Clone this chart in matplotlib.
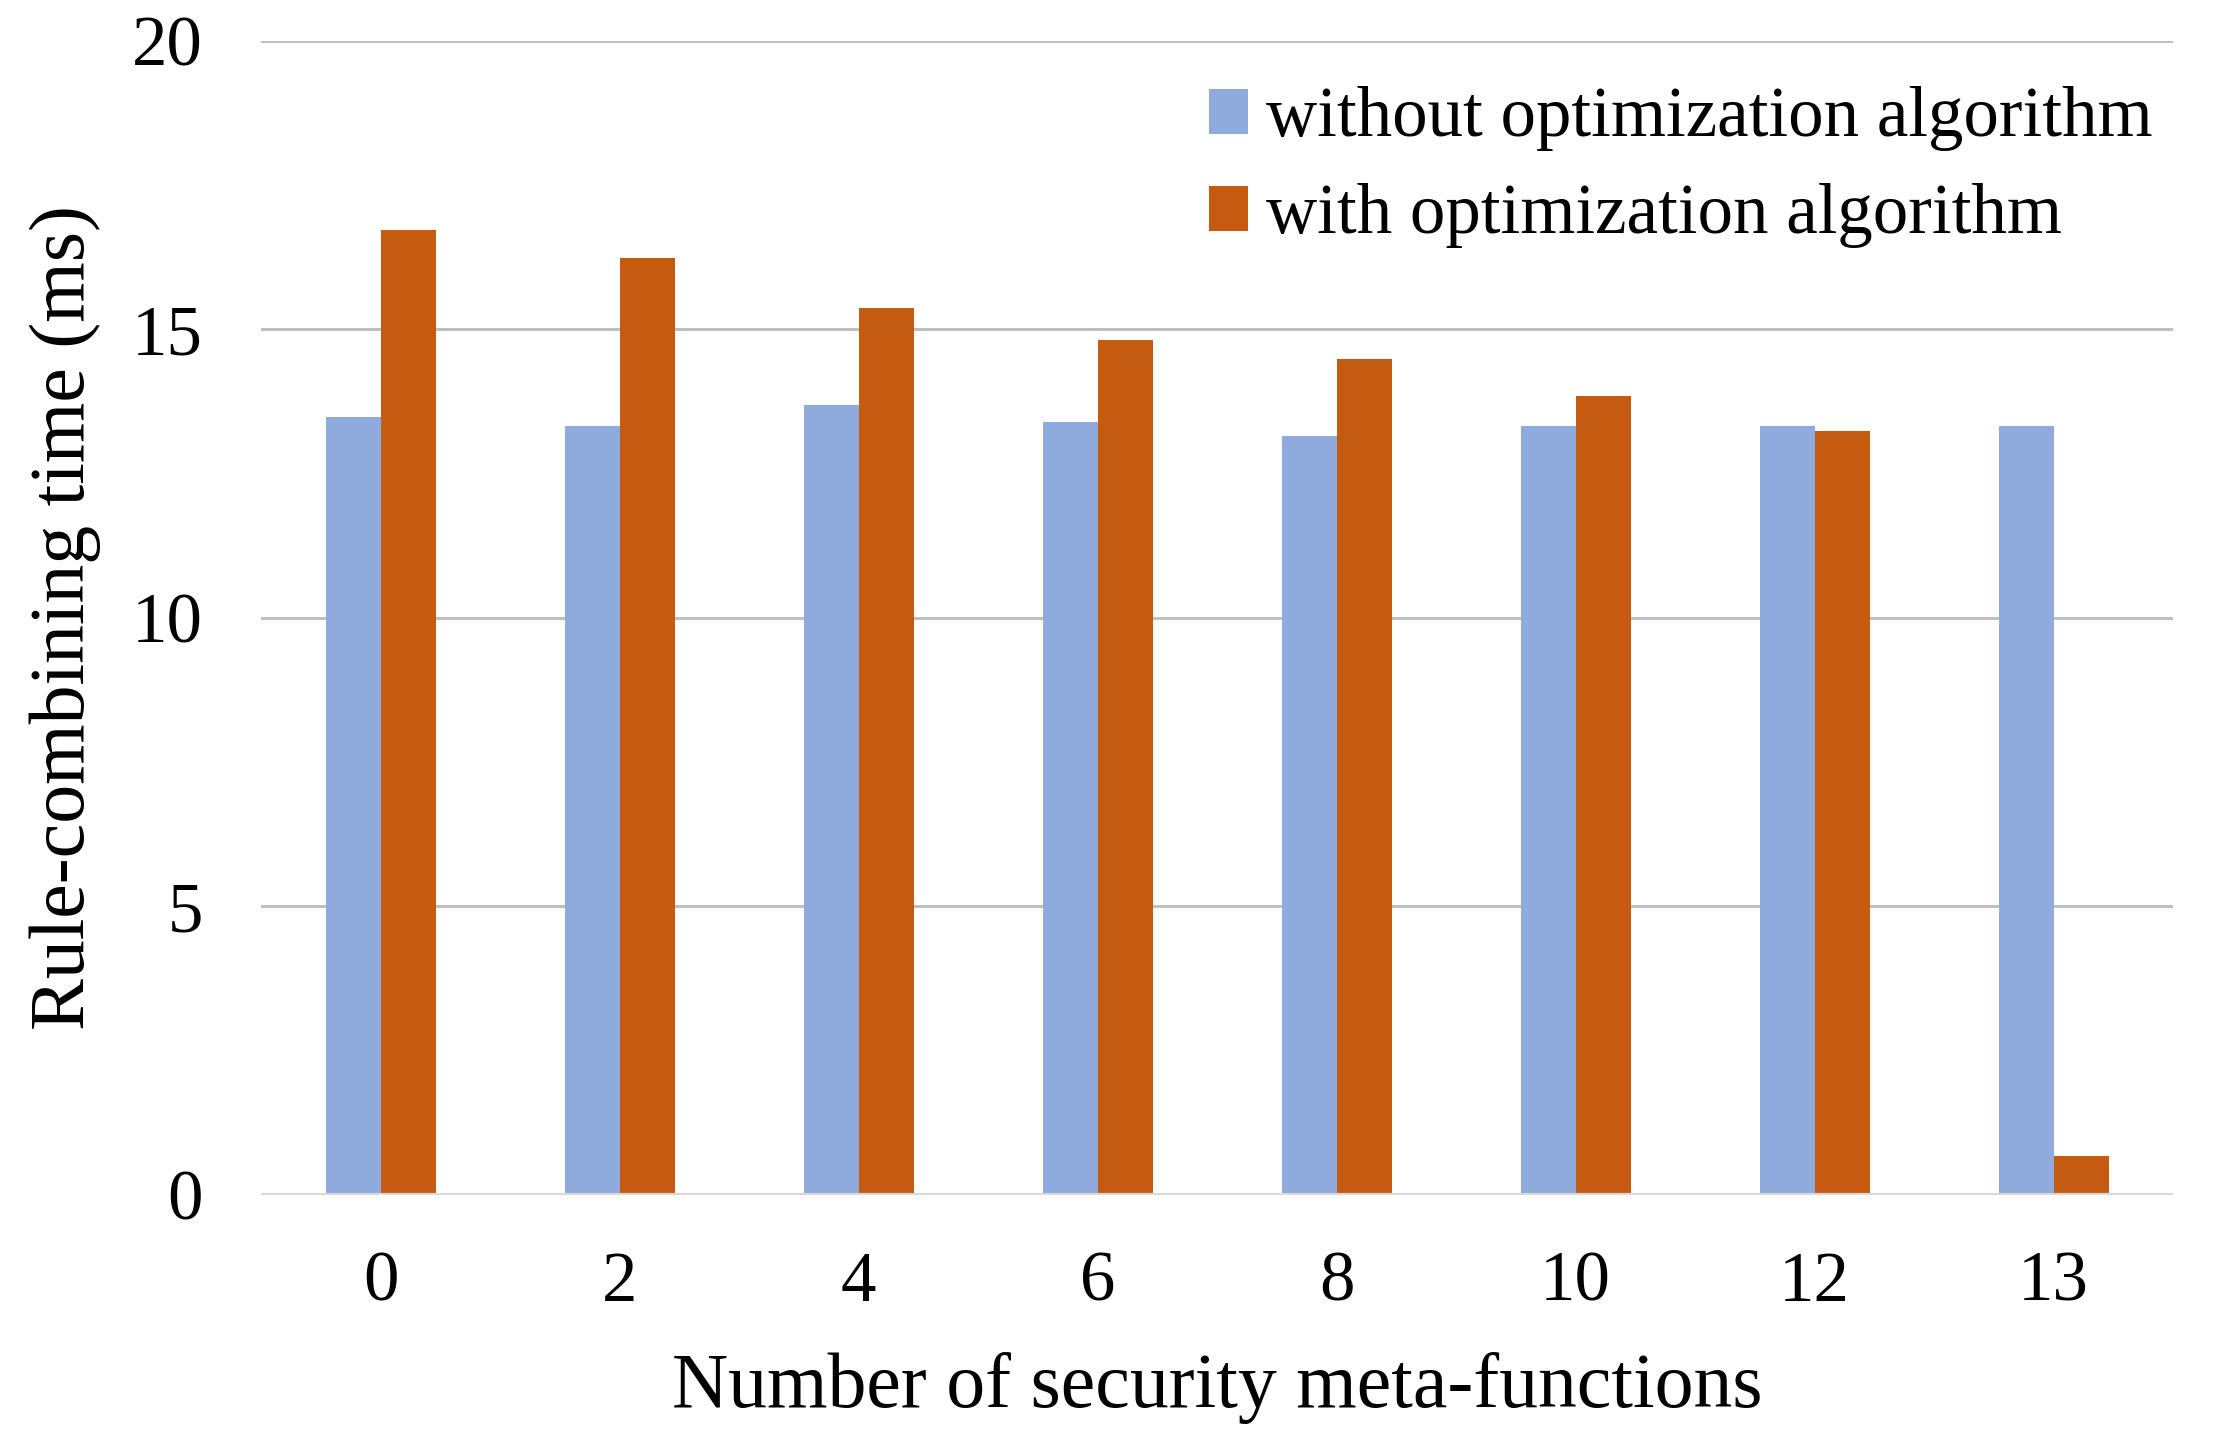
import matplotlib
matplotlib.use("Agg")
import matplotlib.pyplot as plt
import numpy as np

categories = ['0', '2', '4', '6', '8', '10', '12', '13']
without_opt = [13.48, 13.33, 13.68, 13.40, 13.15, 13.33, 13.33, 13.33]
with_opt = [16.72, 16.23, 15.36, 14.82, 14.48, 13.85, 13.24, 0.68]
series_names = ['without optimization algorithm', 'with optimization algorithm']

plt.rcParams['font.family'] = ['Liberation Serif', 'DejaVu Serif']

fig = plt.figure(figsize=(22.13, 14.52), dpi=100)
ax = fig.add_axes([0.118, 0.177, 0.864, 0.795])

x = np.arange(len(categories))
w = 0.23
ax.bar(x - w / 2, without_opt, w, color='#8FAADC', label=series_names[0], zorder=3)
ax.bar(x + w / 2, with_opt, w, color='#C55A11', label=series_names[1], zorder=3)

ax.set_xlim(-0.5, len(categories) - 0.5)
ax.set_ylim(0, 20)
ax.set_yticks([0, 5, 10, 15, 20])
ax.set_xticks(x)
ax.set_xticklabels(categories)
ax.yaxis.grid(True, color='#BFBFBF', linewidth=2.2, zorder=0)
ax.axhline(0, color='#D9D9D9', linewidth=3, zorder=4)
for s in ax.spines.values():
    s.set_visible(False)
ax.tick_params(axis='both', length=0, labelsize=51)
ax.tick_params(axis='x', pad=40)
ax.tick_params(axis='y', pad=42)

ax.set_xlabel('Number of security meta-functions', fontsize=56, labelpad=26)
ax.set_ylabel('Rule-combining time (ms)', fontsize=56, labelpad=22)

ax.legend(loc='upper right', bbox_to_anchor=(1.004, 0.985), frameon=False, fontsize=51,
          handlelength=0.55, handleheight=0.6, handletextpad=0.25, labelspacing=0.45,
          borderaxespad=0.0)

fig.savefig('out.png', dpi=100)
